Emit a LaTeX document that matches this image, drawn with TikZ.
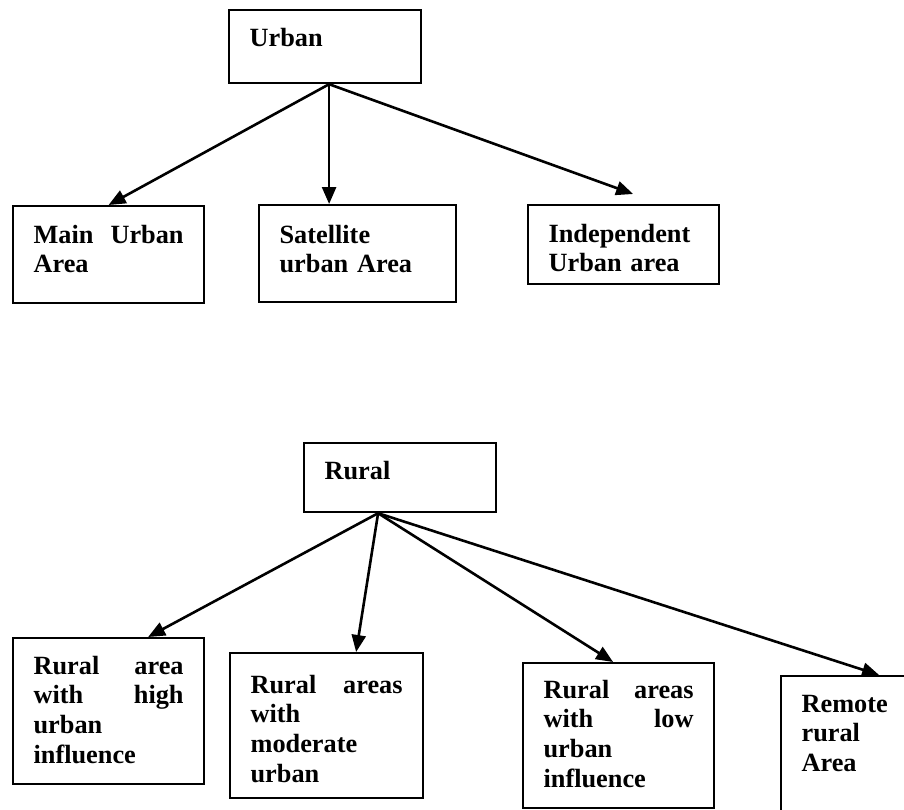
\documentclass[tikz,border=0pt]{standalone}
\usepackage{fontspec}
\setmainfont{Liberation Serif}
\usetikzlibrary{arrows.meta}
\newdimen\px \px=0.5pt
\begin{document}
\begin{tikzpicture}[x=0.5pt,y=-0.5pt,
  box/.style={draw, line width=1.1pt, anchor=north west,
    inner xsep=20.5\px, inner ysep=0pt, align=left,
    font=\bfseries\fontsize{13.15pt}{14.85pt}\selectfont},
  link/.style={line width=1.3pt, -{Triangle[length=8.5pt,width=7pt]}}]
\useasboundingbox (0,0) rectangle (904,809);
\clip (0,0) rectangle (904,809);

% urban classification
\node[box, text width=151\px, text height=36\px, text depth=37\px] (urban) at (228,9) {Urban};
\node[box, text width=150\px, text height=37\px, text depth=60\px] (main) at (12,205) {Main\hfill Urban\\Area};
\node[box, text width=156\px, text height=38\px, text depth=59\px] (sat) at (258,204) {Satellite\\urban Area};
\node[box, text width=150\px, text height=37\px, text depth=42\px] (indep) at (527,204) {Independent\\Urban area};

\draw[link] ([xshift=4\px]urban.south) -- (main.north);
\draw[link] ([xshift=4\px]urban.south) -- ([xshift=-28.5\px]sat.north);
\draw[link] ([xshift=4\px]urban.south) -- ([xshift=9.5\px,yshift=10\px]indep.north);

% rural classification
\node[box, text width=151\px, text height=36\px, text depth=33\px] (rural) at (303,442) {Rural};
\node[box, text width=150\px, text height=36\px, text depth=110\px] (r1) at (12,637) {Rural\hfill area\\with\hfill high\\urban\\influence};
\node[box, text width=152\px, text height=40\px, text depth=105\px] (r2) at (229,652) {Rural\hfill areas\\with\\moderate\\urban};
\node[box, text width=150\px, text height=35\px, text depth=110\px] (r3) at (522,662) {Rural\hfill areas\\with\hfill low\\urban\\influence};
\node[box, text width=150\px, text height=36\px, text depth=110\px] (r4) at (780,675) {Remote\\rural\\Area};

\draw[link] ([xshift=-22\px]rural.south) -- ([xshift=39.5\px]r1.north);
\draw[link] ([xshift=-22\px]rural.south) -- ([xshift=29.5\px]r2.north);
\draw[link] ([xshift=-22\px]rural.south) -- ([xshift=-5.5\px]r3.north);
\draw[link] ([xshift=-22\px]rural.south) -- ([xshift=2.5\px]r4.north);
\end{tikzpicture}
\end{document}
